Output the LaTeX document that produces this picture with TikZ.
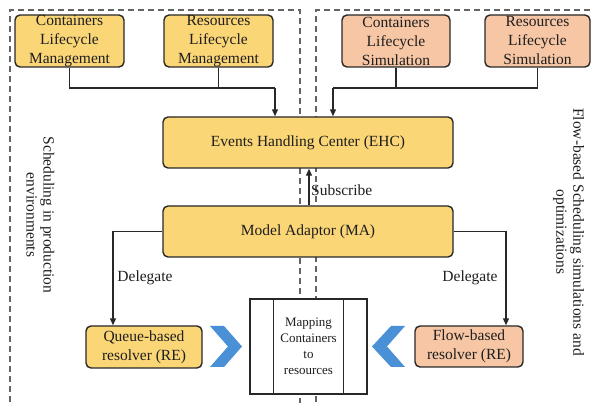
\documentclass[tikz,border=0pt]{standalone}
\usepackage{fontspec}
\setmainfont{Liberation Serif}
\usetikzlibrary{arrows.meta}
\definecolor{ylw}{RGB}{250,214,118}
\definecolor{slm}{RGB}{247,198,165}
\definecolor{chev}{RGB}{74,144,214}
\definecolor{edgec}{RGB}{40,40,40}
\definecolor{dashc}{RGB}{100,100,100}
\definecolor{txt}{RGB}{30,30,30}
\begin{document}
\begin{tikzpicture}[x=1pt,y=-1pt,
  box/.style={draw=edgec, line width=1.4pt, rounded corners=5pt, align=center, inner sep=0pt,
    text=txt, font=\fontsize{15.5}{19}\selectfont},
  ybox/.style={box, fill=ylw},
  sbox/.style={box, fill=slm},
  region/.style={draw=dashc, line width=1.1pt, dash pattern=on 6pt off 4pt},
  conn/.style={draw=edgec, line width=1.2pt},
  arr/.style={conn, -{Triangle[length=7pt,width=6pt]}},
  lbl/.style={text=txt, font=\fontsize{15.5}{19}\selectfont, inner sep=0pt},
  side/.style={text=txt, font=\fontsize{15.5}{17}\selectfont, align=center, rotate=-90, inner sep=0pt},
  chevron/.style={fill=chev, draw=none}
]
\useasboundingbox (0,0) rectangle (592,403);
\fill[white] (0,0) rectangle (592,403);

% dashed regions
\draw[region] (10,412) -- (10,10) -- (300,10) -- (300,412);
\draw[region] (316,412) -- (316,10) -- (600,10);

% side labels
\node[side] (lside) at (40.5,215) {Scheduling in production\\environments};
\node[side] (rside) at (568.5,232) {Flow-based Scheduling simulations and\\optimizations};

% top boxes
\node[ybox, minimum width=109pt, minimum height=52pt] (clm) at (69.5,41) {Containers\\Lifecycle\\Management};
\node[ybox, minimum width=109pt, minimum height=52pt] (rlm) at (218.5,41) {Resources\\Lifecycle\\Management};
\node[sbox, minimum width=108pt, minimum height=52pt] (cls) at (396,41) {Containers\\Lifecycle\\Simulation};
\node[sbox, minimum width=105pt, minimum height=52pt] (rls) at (537.5,41) {Resources\\Lifecycle\\Simulation};

% central boxes
\node[ybox, minimum width=290pt, minimum height=51pt] (ehc) at (308,142.5) {Events Handling Center (EHC)};
\node[ybox, minimum width=290pt, minimum height=51pt] (ma) at (308,231.5) {Model Adaptor (MA)};

% bottom boxes
\node[ybox, minimum width=116pt, minimum height=42pt] (qr) at (144,347) {Queue-based\\resolver (RE)};
\node[sbox, minimum width=108pt, minimum height=41pt] (fr) at (469,346.5) {Flow-based\\resolver (RE)};
\node[draw=edgec, fill=white, line width=1.2pt, minimum width=117pt, minimum height=95pt, inner sep=0pt,
  align=center, text=txt, font=\fontsize{13}{16}\selectfont] (map) at (308.5,346.5)
  {Mapping\\Containers\\to\\resources};
\draw[conn] ([xshift=24pt]map.north west) -- ([xshift=24pt]map.south west);
\draw[conn] ([xshift=-24pt]map.north east) -- ([xshift=-24pt]map.south east);

% chevrons
\fill[chevron] (210,326) -- (224,326) -- (242,346.5) -- (224,367) -- (210,367) -- (228,346.5) -- cycle;
\fill[chevron] (405,326) -- (391,326) -- (372,346.5) -- (391,367) -- (405,367) -- (387,346.5) -- cycle;

% top connectors
\coordinate (jL) at (275,88);
\coordinate (jR) at (333,88);
\draw[conn] (clm.south) |- (jL);
\draw[conn] (rlm.south) -- (rlm.south |- jL);
\draw[arr] (jL) -- (jL |- ehc.north);
\draw[conn] (rls.south) |- (jR);
\draw[conn] (cls.south) -- (cls.south |- jR);
\draw[arr] (jR) -- (jR |- ehc.north);

% subscribe
\draw[arr] ([xshift=1pt]ma.north) -- ([xshift=1pt]ehc.south);
\node[lbl, anchor=west] (sub) at (311,190) {Subscribe};

% delegates
\draw[arr] (ma.west) -| ([xshift=-31pt]qr.north);
\draw[arr] (ma.east) -| ([xshift=37pt]fr.north);
\node[lbl] (dl) at (145,278) {Delegate};
\node[lbl] (dr) at (470,278) {Delegate};
\end{tikzpicture}
\end{document}
